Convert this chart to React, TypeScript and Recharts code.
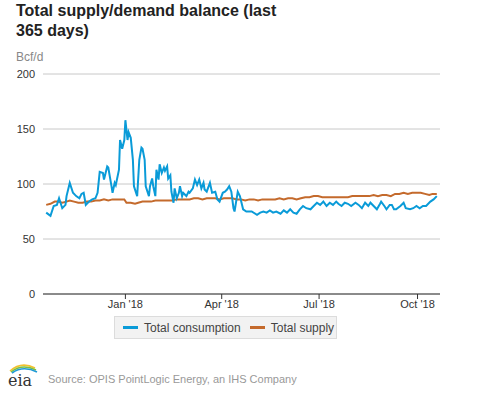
import { LineChart, Line, XAxis, YAxis, CartesianGrid } from 'recharts';

// day 0 = 19 Oct 2017; [day, Bcf/d]
const consumption: [number, number][] = [
  [0, 74], [4, 71], [7, 80], [10, 81], [12, 87], [15, 78], [18, 81], [19, 89],
  [22, 101], [25, 92], [28, 89], [31, 87], [33, 91], [35, 92], [37, 81], [40, 84],
  [43, 86], [46, 87], [48, 92], [50, 111], [53, 110], [54, 104], [57, 116], [58, 115],
  [61, 98], [62, 92], [64, 101], [65, 99], [68, 113], [69, 140], [71, 132], [73, 140],
  [74, 158], [76, 140], [77, 147], [79, 142], [81, 122], [82, 98], [85, 89], [87, 122],
  [89, 133], [90, 132], [92, 122], [93, 98], [96, 89], [97, 98], [99, 105], [100, 98],
  [102, 89], [103, 113], [105, 104], [106, 118], [108, 110], [110, 115], [111, 112], [113, 116],
  [114, 105], [116, 108], [117, 93], [119, 83], [120, 96], [122, 87], [124, 92], [125, 98],
  [127, 89], [128, 92], [130, 90], [131, 89], [133, 93], [134, 92], [137, 96], [139, 104],
  [141, 99], [143, 104], [145, 96], [147, 101], [148, 95], [150, 93], [153, 101], [155, 92],
  [158, 93], [160, 86], [162, 84], [165, 92], [167, 93], [169, 95], [171, 98], [173, 93],
  [175, 78], [176, 75], [179, 93], [181, 89], [184, 77], [187, 75], [192, 75], [197, 72],
  [200, 74], [203, 75], [206, 74], [209, 76], [212, 74], [215, 75], [219, 73], [222, 76],
  [225, 74], [228, 77], [231, 74], [234, 73], [237, 77], [240, 80], [243, 78], [247, 77],
  [250, 80], [253, 83], [256, 81], [259, 84], [262, 80], [265, 83], [268, 81], [271, 84],
  [273, 82], [276, 80], [279, 83], [282, 82], [285, 80], [289, 83], [292, 81], [295, 78],
  [298, 83], [301, 80], [303, 83], [306, 80], [309, 77], [312, 82], [313, 84], [316, 80],
  [318, 77], [321, 81], [323, 81], [325, 77], [327, 77], [331, 80], [334, 83], [336, 78],
  [340, 77], [343, 78], [346, 80], [349, 78], [352, 80], [355, 80], [359, 84], [362, 86],
  [365, 89],
];

const supply: [number, number][] = [
  [0, 81], [4, 82], [8, 84], [11, 84], [15, 83], [19, 84], [22, 85], [26, 84],
  [30, 83], [34, 83], [38, 84], [42, 84], [46, 85], [50, 85], [54, 86], [58, 85],
  [62, 86], [66, 86], [70, 86], [73, 86], [75, 83], [79, 83], [83, 82], [86, 83],
  [90, 84], [94, 84], [98, 84], [102, 85], [106, 85], [110, 85], [114, 85], [118, 85],
  [122, 86], [126, 86], [130, 86], [134, 86], [138, 87], [142, 87], [146, 86], [150, 87],
  [154, 87], [158, 87], [162, 86], [166, 87], [170, 87], [174, 87], [178, 86], [182, 86],
  [186, 85], [190, 86], [194, 86], [198, 85], [202, 86], [206, 86], [210, 86], [214, 86],
  [218, 87], [222, 86], [226, 87], [230, 87], [234, 86], [238, 87], [242, 88], [246, 88],
  [250, 89], [254, 89], [258, 88], [262, 88], [266, 88], [270, 88], [274, 88], [278, 88],
  [282, 88], [286, 89], [290, 89], [294, 89], [298, 89], [302, 89], [306, 90], [310, 89],
  [314, 90], [318, 90], [322, 89], [326, 91], [330, 91], [334, 92], [338, 91], [342, 92],
  [346, 92], [350, 92], [354, 91], [358, 90], [361, 91], [365, 91],
];

const yTicks = [0, 50, 100, 150, 200];
const xTicks = [74, 164, 255, 347];
const xTickLabels = ["Jan '18", "Apr '18", "Jul '18", "Oct '18"];

const BLUE = '#0a9bd8';
const ORANGE = '#c46a2c';
const FONT = '"Liberation Sans", Arial, sans-serif';

const consumptionData = consumption.map(([day, value]) => ({ day, value }));
const supplyData = supply.map(([day, value]) => ({ day, value }));

function EiaLogo() {
  return (
    <svg width={36} height={32} style={{ position: 'absolute', left: 6, top: 359 }}>
      <path d="M4 12 Q15 2 29 9" stroke="#f2c12e" strokeWidth={1.6} fill="none" />
      <path d="M5 13 Q16 4 30 11" stroke="#7cbf42" strokeWidth={1.6} fill="none" />
      <path d="M6 14 Q17 6 31 13" stroke="#1f9ad6" strokeWidth={1.6} fill="none" />
      <text x={2} y={27} fontFamily='"DejaVu Serif", "Liberation Serif", serif' fontSize={16} fill="#333">
        eia
      </text>
    </svg>
  );
}

function LegendItem({ color, label }: { color: string; label: string }) {
  return (
    <span style={{ display: 'inline-flex', alignItems: 'center', marginRight: 9 }}>
      <span style={{ display: 'inline-block', width: 15, height: 3, background: color, marginRight: 6 }} />
      {label}
    </span>
  );
}

export default function App() {
  return (
    <div style={{ position: 'absolute', left: 0, top: 0, width: 477, height: 393, background: '#fff', fontFamily: FONT }}>
      <div style={{ position: 'absolute', left: 16, top: 1, fontSize: 16, lineHeight: '20px', fontWeight: 'bold', color: '#222' }}>
        Total supply/demand balance (last
        <br />
        365 days)
      </div>
      <div style={{ position: 'absolute', left: 16, top: 50, fontSize: 12, lineHeight: '14px', color: '#888' }}>Bcf/d</div>

      <div style={{ position: 'absolute', left: 0, top: 0 }}>
        <LineChart width={477} height={393} margin={{ top: 74, right: 37, bottom: 69, left: 8 }}>
          <CartesianGrid vertical={false} stroke="#c8c8c8" />
          <XAxis
            type="number"
            dataKey="day"
            domain={[-3, 368]}
            ticks={xTicks}
            tickFormatter={(v: number) => xTickLabels[xTicks.indexOf(v)]}
            allowDataOverflow
            stroke="#333"
            tickSize={5}
            tickMargin={1}
            height={30}
            tick={{ fontSize: 11, fill: '#333', fontFamily: FONT }}
          />
          <YAxis
            domain={[0, 200]}
            ticks={yTicks}
            axisLine={false}
            tickLine={false}
            width={35}
            tick={{ fontSize: 11, fill: '#333', fontFamily: FONT }}
          />
          <Line data={supplyData} dataKey="value" stroke={ORANGE} strokeWidth={2} dot={false} isAnimationActive={false} />
          <Line data={consumptionData} dataKey="value" stroke={BLUE} strokeWidth={2} dot={false} isAnimationActive={false} />
        </LineChart>
      </div>

      <div
        style={{
          position: 'absolute', left: 114, top: 316, width: 223, height: 23,
          background: '#f2f2f2', border: '1px solid #dcdcdc',
          display: 'flex', alignItems: 'center', paddingLeft: 8, boxSizing: 'border-box',
          fontSize: 12, color: '#444', whiteSpace: 'nowrap',
        }}
      >
        <LegendItem color={BLUE} label="Total consumption" />
        <LegendItem color={ORANGE} label="Total supply" />
      </div>

      <EiaLogo />
      <div style={{ position: 'absolute', left: 48, top: 373, fontSize: 11, lineHeight: '13px', color: '#999' }}>
        Source: OPIS PointLogic Energy, an IHS Company
      </div>
    </div>
  );
}
